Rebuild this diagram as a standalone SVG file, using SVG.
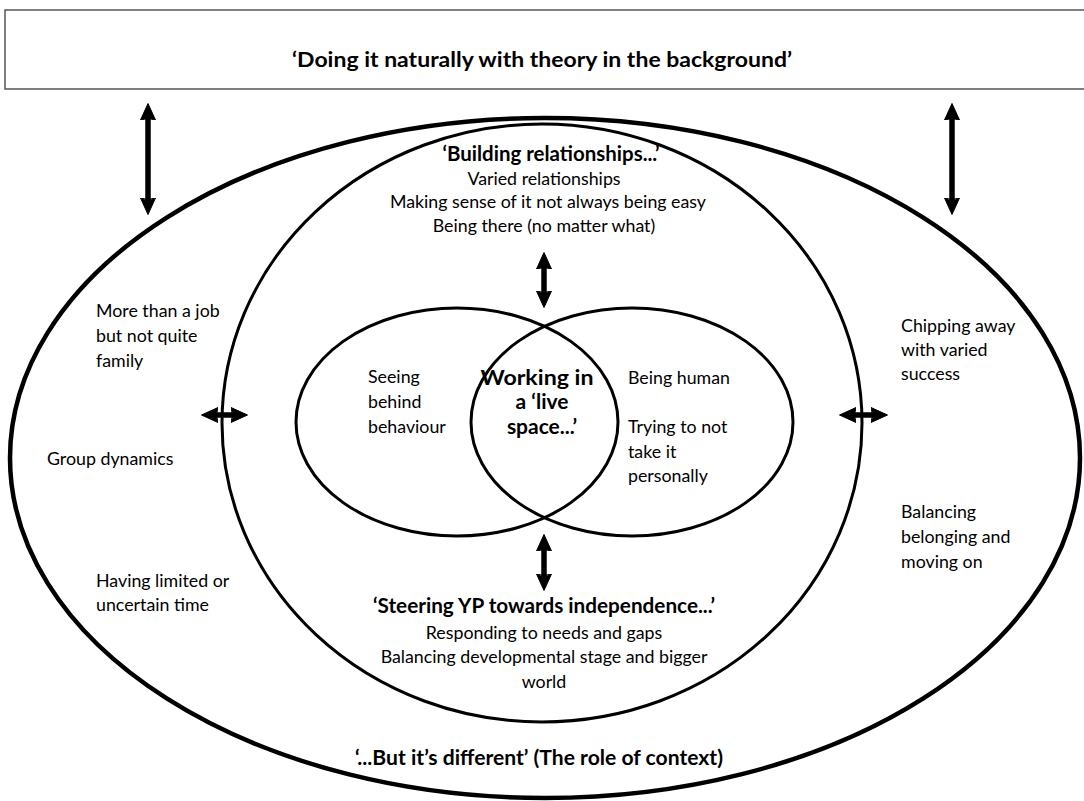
<svg xmlns="http://www.w3.org/2000/svg" width="1084" height="801" viewBox="0 0 1084 801">
<style>
  text { font-family: Lato, "Open Sans", "Liberation Sans", sans-serif; fill: #000; }
  .t { font-size: 17.8px; }
  .b { font-size: 20.5px; font-weight: bold; }
  .c { text-anchor: middle; }
  .ring { fill: none; stroke: #000; }
  .shaft { stroke: #000; stroke-width: 5.5; fill: none; marker-start: url(#ah); marker-end: url(#ah); }
</style>
<defs>
  <marker id="ah" markerUnits="userSpaceOnUse" markerWidth="18" markerHeight="16" refX="8" refY="8" orient="auto-start-reverse" viewBox="0 0 18 16">
    <path d="M0,0.5 Q3,8 0,15.5 L16.5,8 Z" fill="#000" stroke="#000" stroke-width="1" stroke-linejoin="round"/>
  </marker>
</defs>
<rect width="1084" height="801" fill="#fff"/>

<g id="header">
  <rect x="5" y="10" width="1090" height="79" fill="#fff" stroke="#555" stroke-width="1.5"/>
  <text class="b c" x="542" y="67" style="font-size:20px" textLength="500" lengthAdjust="spacingAndGlyphs">‘Doing it naturally with theory in the background’</text>
</g>

<g id="context">
  <ellipse class="ring" cx="545" cy="458" rx="535" ry="340" stroke-width="4.5"/>
  <text class="t" x="96" y="317">More than a job</text>
  <text class="t" x="96" y="342">but not quite</text>
  <text class="t" x="96" y="367">family</text>
  <text class="t" x="47" y="465">Group dynamics</text>
  <text class="t" x="96" y="587">Having limited or</text>
  <text class="t" x="96" y="611">uncertain time</text>
  <text class="t" x="901" y="332">Chipping away</text>
  <text class="t" x="901" y="356">with varied</text>
  <text class="t" x="901" y="380">success</text>
  <text class="t" x="901" y="518">Balancing</text>
  <text class="t" x="901" y="543">belonging and</text>
  <text class="t" x="901" y="568">moving on</text>
  <text class="b c" x="539" y="765" textLength="368" lengthAdjust="spacingAndGlyphs">‘...But it’s different’ (The role of context)</text>
</g>

<g id="relationships">
  <ellipse class="ring" cx="542" cy="423" rx="320" ry="299" stroke-width="3"/>
  <text class="b c" x="551" y="161" textLength="217" lengthAdjust="spacingAndGlyphs">‘Building relationships...’</text>
  <text class="t c" x="544" y="185">Varied relationships</text>
  <text class="t c" x="548" y="208">Making sense of it not always being easy</text>
  <text class="t c" x="544" y="232">Being there (no matter what)</text>
  <text class="b c" x="544" y="613" textLength="342" lengthAdjust="spacingAndGlyphs">‘Steering YP towards independence...’</text>
  <text class="t c" x="544" y="639">Responding to needs and gaps</text>
  <text class="t c" x="544" y="663">Balancing developmental stage and bigger</text>
  <text class="t c" x="544" y="688">world</text>
</g>

<g id="venn-left">
  <ellipse class="ring" cx="457" cy="422" rx="161" ry="114" stroke-width="3"/>
  <text class="t" x="368" y="383">Seeing</text>
  <text class="t" x="368" y="408">behind</text>
  <text class="t" x="368" y="433">behaviour</text>
</g>

<g id="venn-right">
  <ellipse class="ring" cx="632" cy="422" rx="161" ry="114" stroke-width="3"/>
  <text class="t" x="628" y="384">Being human</text>
  <text class="t" x="628" y="433">Trying to not</text>
  <text class="t" x="628" y="458">take it</text>
  <text class="t" x="628" y="482">personally</text>
</g>

<g id="live-space">
  <text class="b c" x="537" y="385" style="font-size:21px" textLength="113" lengthAdjust="spacingAndGlyphs">Working in</text>
  <text class="b c" x="542" y="409" style="font-size:21px">a ‘live</text>
  <text class="b c" x="542" y="434" style="font-size:21px">space...’</text>
</g>

<g id="connectors">
  <line class="shaft" x1="148" y1="112" x2="148" y2="206"/>
  <line class="shaft" x1="952" y1="112" x2="952" y2="206"/>
  <line class="shaft" x1="544" y1="261" x2="544" y2="299"/>
  <line class="shaft" x1="544" y1="543" x2="544" y2="582"/>
  <line class="shaft" x1="210" y1="415" x2="239" y2="415"/>
  <line class="shaft" x1="848" y1="415" x2="879" y2="415"/>
</g>
</svg>
